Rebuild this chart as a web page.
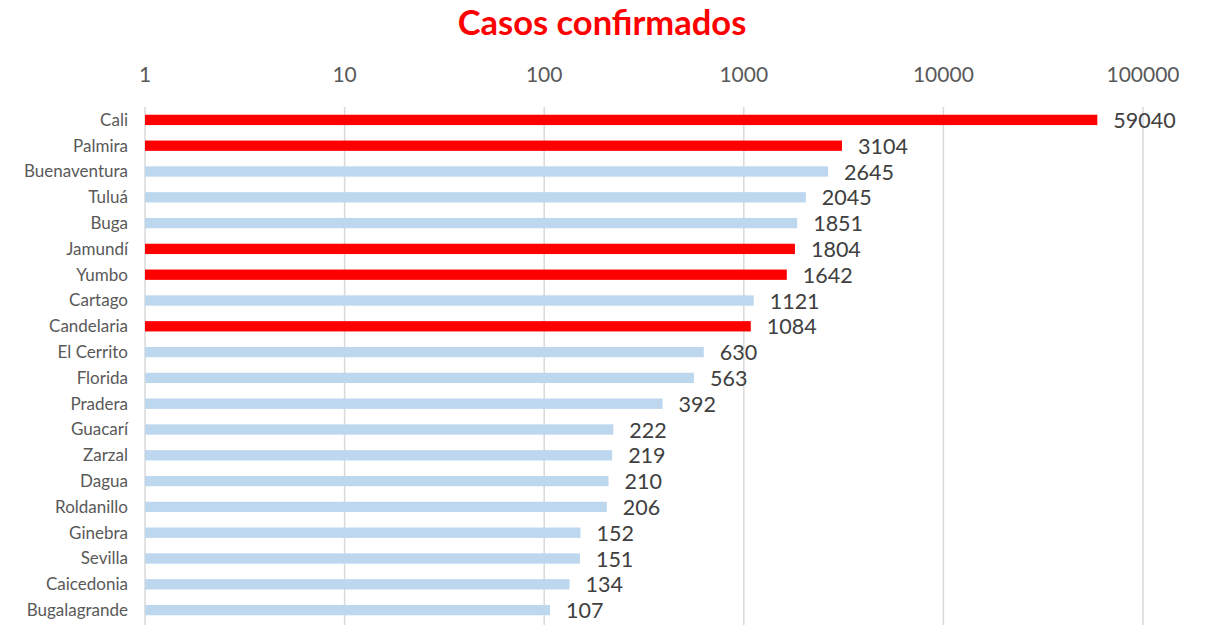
<!DOCTYPE html>
<html>
<head>
<meta charset="utf-8">
<script src="https://cdn.jsdelivr.net/npm/d3@7"></script>
<style>
  body { margin: 0; background: white; }
</style>
</head>
<body>
<div class="chart"></div>
<script>
// data
let municipios = ["Cali", "Palmira", "Buenaventura", "Tuluá", "Buga", "Jamundí", "Yumbo",
    "Cartago", "Candelaria", "El Cerrito", "Florida", "Pradera", "Guacarí", "Zarzal",
    "Dagua", "Roldanillo", "Ginebra", "Sevilla", "Caicedonia", "Bugalagrande"];
let casos = [59040, 3104, 2645, 2045, 1851, 1804, 1642, 1121, 1084, 630, 563, 392,
    222, 219, 210, 206, 152, 151, 134, 107];
// highlighted rows (red)
let destacados = ["Cali", "Palmira", "Jamundí", "Yumbo", "Candelaria"];
let tickValues = [1, 10, 100, 1000, 10000, 100000];

let data = municipios.map(function (d, i) {
    return { name: d, value: casos[i] };
});

let svg = d3
    .select(".chart")
    .append("svg")
    .attr("width", 1205)
    .attr("height", 625)
    .style("background-color", "white");

let x = d3
    .scaleLog()
    .domain([1, 100000])
    .range([145, 1143]);

let y = d3
    .scaleBand()
    .domain(municipios)
    .range([107, 623])
    .paddingInner(0.6)
    .paddingOuter(0.3);

// gridlines
svg.append("g")
    .selectAll("line")
    .data(tickValues)
    .enter()
    .append("line")
    .attr("x1", function (d) { return x(d); })
    .attr("x2", function (d) { return x(d); })
    .attr("y1", 107)
    .attr("y2", 625)
    .style("stroke", "#d9d9d9")
    .style("stroke-width", 1.5);

// top tick labels
svg.append("g")
    .selectAll("text")
    .data(tickValues)
    .enter()
    .append("text")
    .attr("x", function (d) { return x(d); })
    .attr("y", 82)
    .attr("text-anchor", "middle")
    .style("font-family", "Lato, 'Open Sans', sans-serif")
    .style("font-size", 21)
    .style("fill", "#595959")
    .text(function (d) { return d; });

// bars
svg.append("g")
    .selectAll("rect")
    .data(data)
    .enter()
    .append("rect")
    .attr("x", x(1))
    .attr("y", function (d) { return y(d.name); })
    .attr("width", function (d) { return x(d.value) - x(1); })
    .attr("height", y.bandwidth())
    .attr("fill", function (d) {
        return destacados.indexOf(d.name) >= 0 ? "#ff0000" : "#bdd7ee";
    });

// value labels
svg.append("g")
    .selectAll("text")
    .data(data)
    .enter()
    .append("text")
    .attr("x", function (d) { return x(d.value) + 16; })
    .attr("y", function (d) { return y(d.name) + y.bandwidth() / 2; })
    .attr("dy", "0.38em")
    .style("font-family", "Lato, 'Open Sans', sans-serif")
    .style("font-size", 21.5)
    .style("fill", "#404040")
    .text(function (d) { return d.value; });

// category labels
svg.append("g")
    .selectAll("text")
    .data(data)
    .enter()
    .append("text")
    .attr("x", 128)
    .attr("y", function (d) { return y(d.name) + y.bandwidth() / 2; })
    .attr("dy", "0.35em")
    .attr("text-anchor", "end")
    .style("font-family", "Lato, 'Open Sans', sans-serif")
    .style("font-size", 17)
    .style("fill", "#595959")
    .text(function (d) { return d.name; });

// title
svg.append("text")
    .attr("x", 602)
    .attr("y", 35)
    .attr("text-anchor", "middle")
    .style("font-family", "Lato, 'Open Sans', sans-serif")
    .style("font-weight", "bold")
    .style("font-size", 34.5)
    .style("fill", "#ff0000")
    .text("Casos confirmados");
</script>
</body>
</html>
